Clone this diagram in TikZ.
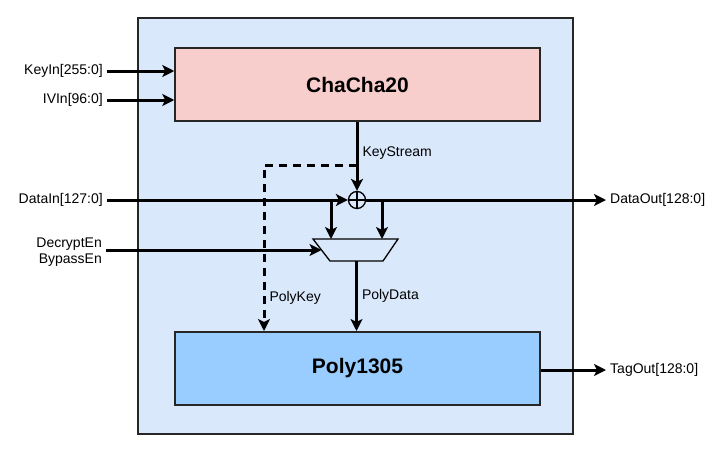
\documentclass[tikz,border=0pt]{standalone}
\usepackage{fontspec}
\setmainfont{Liberation Sans}
\usepackage{tikz}
\usetikzlibrary{positioning, shapes.geometric, arrows.meta, calc}
\definecolor{wrapC}{HTML}{DAE8FC}
\definecolor{chaC}{HTML}{F8CECC}
\definecolor{polyC}{HTML}{99CCFF}
\colorlet{rule}{black!85}
\tikzset{
  card/.style    ={draw=rule, line width=1.5pt, inner sep=0pt,
                   font=\fontsize{21}{25}\selectfont\bfseries},
  Lwrap/.style   ={draw=rule, line width=1.5pt, fill=wrapC},
  Lcha/.style    ={card, fill=chaC, minimum width=365pt, minimum height=73pt},
  Lpoly/.style   ={card, fill=polyC, minimum width=365pt, minimum height=73pt,
                   line width=2pt},
  Lmux/.style    ={draw=black, line width=1.3pt, fill=wrapC, line join=miter},
  Lxor/.style    ={draw=black, line width=1.3pt, circle, minimum size=17pt,
                   inner sep=0pt, path picture={
                     \draw[line width=1.3pt]
                       (path picture bounding box.north) -- (path picture bounding box.south)
                       (path picture bounding box.west) -- (path picture bounding box.east);}},
  sig/.style     ={line width=3pt, -{Stealth[length=12pt, width=12pt, inset=3pt]}},
  keypath/.style ={sig, dash pattern=on 8pt off 6pt},
  lbl/.style     ={font=\fontsize{14}{16.5}\selectfont, inner sep=4pt},
}

\begin{document}
\begin{tikzpicture}[x=1pt, y=-1pt]
\useasboundingbox (0,0) rectangle (709,453);

\draw[Lwrap] (138,18) rectangle (573,434);

\node[Lcha] (cha) at (357.5,84.5) {ChaCha20};
\node[Lpoly] (poly) at (357.5,368.5) {Poly1305};

% inputs
\node[lbl, anchor=east] (keyin) at (107,71) {KeyIn[255:0]};
\node[lbl, anchor=east] (ivin) at (107,100) {IVIn[96:0]};
\node[lbl, anchor=east] (datain) at (107,200) {DataIn[127:0]};
\node[lbl, anchor=east, align=right] (ctl) at (106,252)
  {DecryptEn\\BypassEn};
\draw[sig] (keyin) -- (keyin -| cha.west);
\draw[sig] (ivin) -- (ivin -| cha.west);

% xor + mux
\node[Lxor] (xor) at (357,200) {};
\coordinate (muxTL) at (313,239);
\coordinate (muxTR) at (398,239);
\coordinate (muxBR) at (383,261);
\coordinate (muxBL) at (330,261);
\coordinate (muxS) at (356.5,261);
\coordinate (muxW) at ($(muxTL)!0.5!(muxBL)$);
\draw[Lmux] (muxTL) -- (muxTR) -- (muxBR) -- (muxBL) -- cycle;

\draw[sig] (cha.south -| xor) -- (xor.north)
  node[lbl, pos=0.45, anchor=west] {KeyStream};
\draw[sig] (datain) -- (xor.west);
\node[lbl, anchor=west] (dataout) at (606,200) {DataOut[128:0]};
\draw[sig] (xor.east) -- (dataout);

\coordinate (tapL) at (331,200);
\coordinate (tapR) at (382,200);
\draw[sig] (tapL) -- (tapL |- muxTL);
\draw[sig] (tapR) -- (tapR |- muxTR);
\draw[sig] (ctl.east |- muxW) -- (muxW);

% to poly
\coordinate (ksTap) at (357,165);
\draw[keypath] (ksTap) -| ([xshift=90pt]poly.north west)
  node[lbl, pos=0.9, anchor=west] {PolyKey};
\draw[sig] (muxS) -- (muxS |- poly.north)
  node[lbl, midway, anchor=west] {PolyData};

\node[lbl, anchor=west] (tagout) at (606,370) {TagOut[128:0]};
\draw[sig] (poly.east |- tagout) -- (tagout);

\end{tikzpicture}
\end{document}
